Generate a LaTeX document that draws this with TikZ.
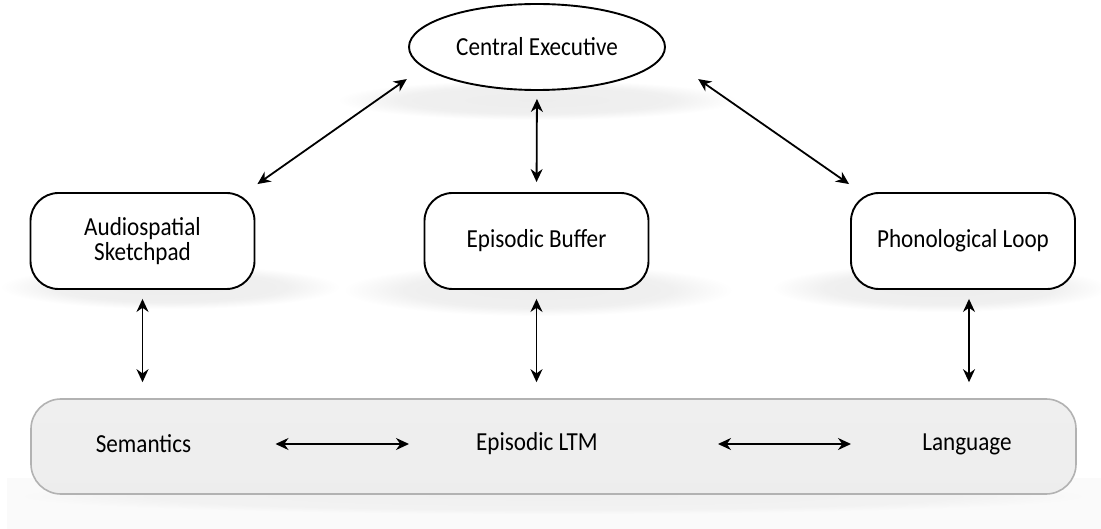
\documentclass[tikz,border=0pt]{standalone}
\usepackage{fontspec}
\setmainfont{Carlito}[FakeStretch=0.89]
\usetikzlibrary{arrows.meta,calc,shapes.geometric}
% soft grey haze used for the drop shadows beneath the boxes
\pgfdeclareradialshading{haze}{\pgfpoint{0bp}{0bp}}{%
  color(0bp)=(black!7); color(17bp)=(black!6); color(25bp)=(white); color(50bp)=(white)}
\pgfdeclareradialshading{lighthaze}{\pgfpoint{0bp}{0bp}}{%
  color(0bp)=(black!6); color(19bp)=(black!5); color(25bp)=(black!2); color(50bp)=(black!2)}
% fill of the long-term store: slightly darker towards the bottom
\pgfdeclareverticalshading{storefill}{100bp}{%
  color(0bp)=(black!10); color(20bp)=(black!7); color(100bp)=(black!6)}
\tikzset{
  label font/.style={font=\fontsize{26}{25}\selectfont},
  module/.style={draw=black, line width=1.9pt, rounded corners=28pt, fill=white,
    minimum width=224pt, minimum height=96pt, inner sep=0pt, align=center, label font},
  executive/.style={draw=black, line width=1.9pt, ellipse, fill=white,
    minimum width=256pt, minimum height=86pt, inner sep=0pt, label font},
  store/.style={draw=black!30, line width=1.6pt, rounded corners=30pt, shading=storefill,
    minimum width=1045pt, minimum height=95pt, inner sep=0pt},
  item/.style={inner sep=0pt, label font},
  biarrow/.style={line width=1.8pt, {Stealth[length=13pt,width=12pt]}-{Stealth[length=13pt,width=12pt]}},
}
\begin{document}
\begin{tikzpicture}[x=1pt,y=-1pt]
\useasboundingbox[fill=white] (0,0) rectangle (1101,529);

% drop shadows
\fill[black!2] (7,478) rectangle (1101,529);
\shade[shading=lighthaze] (553,496) ellipse (535 and 18);
\shade[shading=haze] (537,100) ellipse (200 and 20);
\shade[shading=haze] (170,287) ellipse (170 and 22);
\shade[shading=haze] (538,290) ellipse (195 and 26);
\shade[shading=haze] (940,288) ellipse (168 and 24);

% components of working memory
\node[executive] (ce) at (537,47) {Central Executive};
\node[module] (as) at (142.5,241) {Audiospatial\\Sketchpad};
\node[module] (eb) at (536.5,241) {Episodic Buffer};
\node[module] (pl) at (963,241) {Phonological Loop};

% long-term memory
\node[store] (ltm) at (553.5,446.5) {};
\node[item] (sem) at (143.5,444) {Semantics};
\node[item] (epi) at (537,444) {Episodic LTM};
\node[item] (lang) at (967,444) {Language};

% links to the central executive
\draw[biarrow] ($(as.north east)+(2,-8)$) -- ($(ce.south west)+(-39,1)$);
\draw[biarrow] ($(pl.north west)+(-1,-8)$) -- ($(ce.south east)+(70,1)$);
\draw[biarrow, shorten <=8pt, shorten >=10pt] (ce.south) -- (eb.north);

% links down to long-term memory
\draw[biarrow, shorten <=9pt, shorten >=16pt] (as.south) -- (as.south |- ltm.north);
\draw[biarrow, shorten <=9pt, shorten >=16pt] (eb.south) -- (eb.south |- ltm.north);
\draw[biarrow, shorten <=9pt, shorten >=16pt] ($(pl.south)+(6,0)$) -- ($(pl.south |- ltm.north)+(6,0)$);

% links within long-term memory
\draw[biarrow] ($(sem.center)+(132,0)$) -- ($(epi.center)+(-128,0)$);
\draw[biarrow] ($(epi.center)+(181,0)$) -- ($(lang.center)+(-116,0)$);
\end{tikzpicture}
\end{document}
